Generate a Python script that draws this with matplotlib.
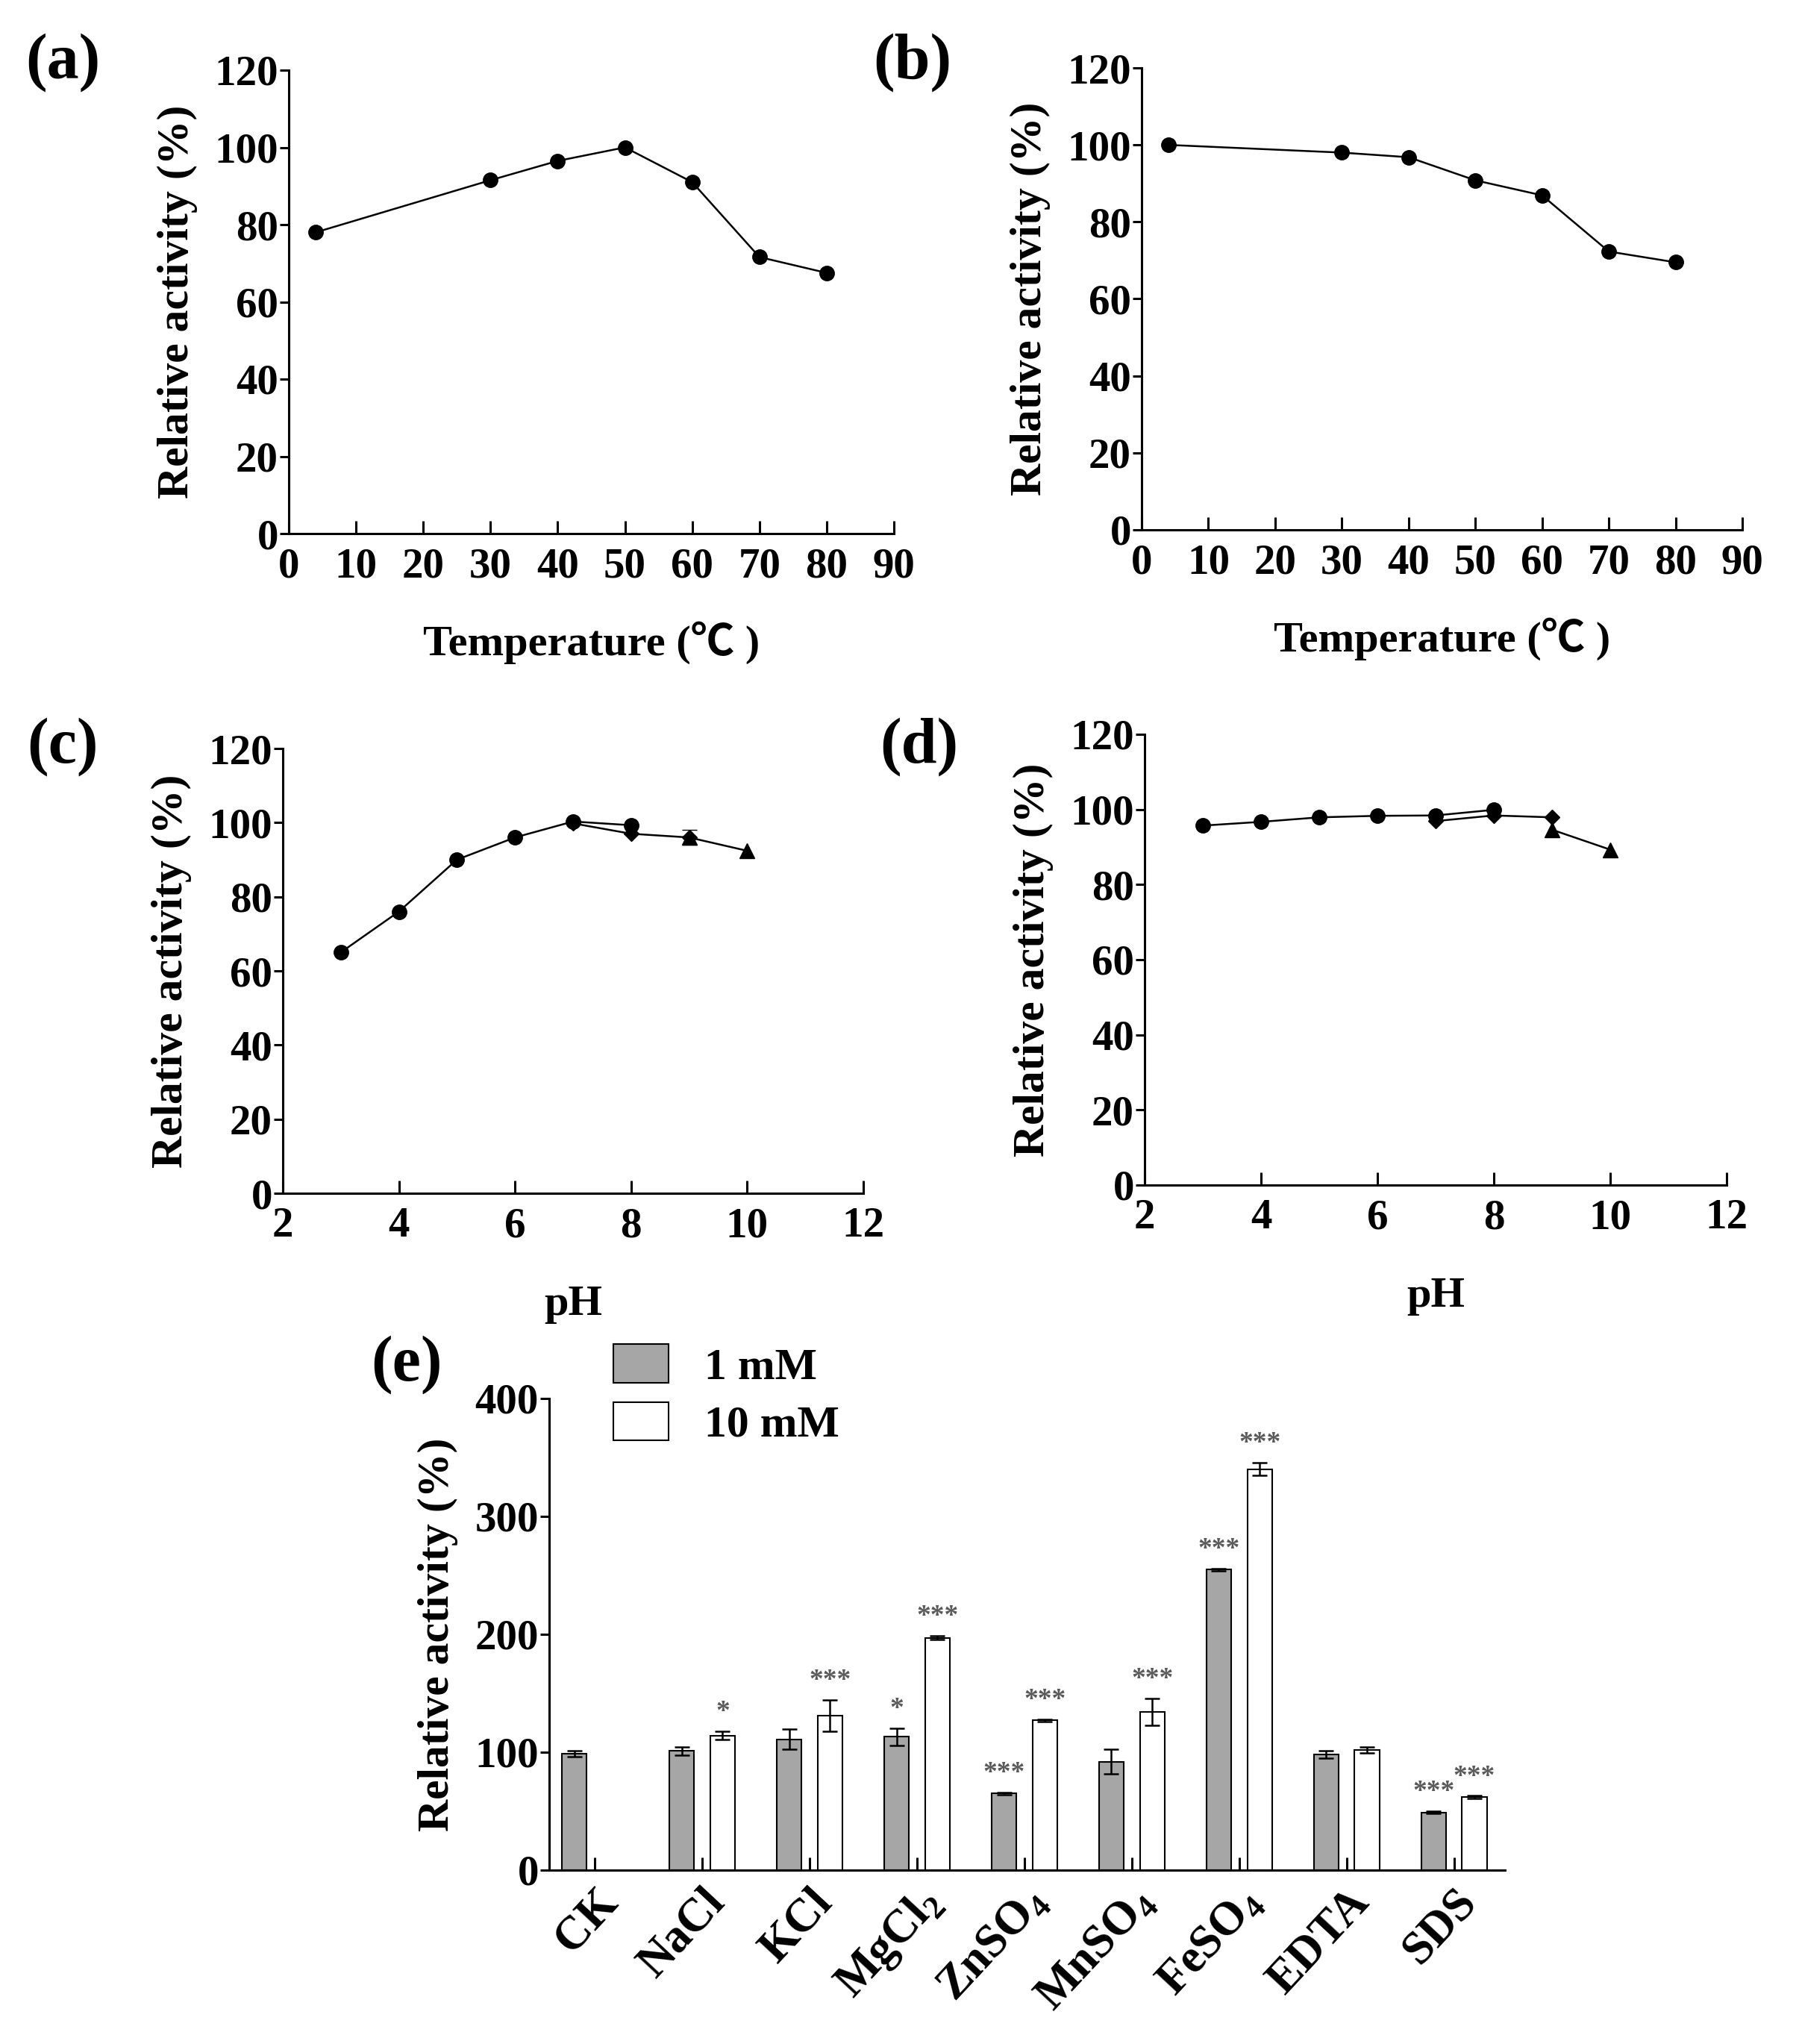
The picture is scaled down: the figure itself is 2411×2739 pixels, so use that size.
import numpy as np
import matplotlib.pyplot as plt

plt.rcParams["font.family"] = ["Liberation Serif", "Noto Sans CJK SC", "DejaVu Serif"]
plt.rcParams["font.weight"] = "bold"
plt.rcParams["axes.labelweight"] = "bold"
plt.rcParams["mathtext.fontset"] = "custom"
plt.rcParams["mathtext.rm"] = "Liberation Serif"
plt.rcParams["mathtext.bf"] = "Liberation Serif:bold"

# (a) optimum temperature
temp_a = [4, 30, 40, 50, 60, 70, 80]
act_a = [78, 91.5, 96.5, 100, 91, 71.6, 67.5]

# (b) temperature stability
temp_b = [4, 30, 40, 50, 60, 70, 80]
act_b = [100, 98, 96.8, 90.8, 86.9, 72.3, 69.5]

# (c) optimum pH, three buffers
ph_1 = [3, 4, 5, 6, 7, 8]
ph_2 = [7, 8, 9]
ph_3 = [9, 10]
act_c1 = [65, 76, 90, 96, 100.3, 99.3]
act_c2 = [99.8, 97, 96]
err_c2 = [0, 0, 2]
act_c3 = [96, 92.4]

# (d) pH stability
act_d1 = [95.7, 96.7, 97.9, 98.3, 98.4, 99.9]
act_d2 = [96.9, 98.4, 97.9]
act_d3 = [94.6, 89.3]

# (e) metal ions / reagents
reagents = ["CK", "NaCl", "KCl", r"MgCl$_\mathbf{2}$", r"ZnSO$_\mathrm{4}$",
            r"MnSO$_\mathrm{4}$", r"FeSO$_\mathrm{4}$", "EDTA", "SDS"]
mm1 = [99, 101, 111, 113, 65, 92, 255, 98, 49]
mm1_err = [2.5, 3.5, 8.5, 7.5, 1, 10.5, 1, 3, 1]
mm10 = [np.nan, 114, 131, 197, 127, 134, 340, 102, 62]
mm10_err = [np.nan, 3.5, 13.5, 1.5, 1, 11.5, 5.5, 2.5, 1]
sig1 = ["", "", "", "*", "***", "", "***", "", "***"]
sig10 = ["", "*", "***", "***", "***", "***", "***", "", "***"]

W, H = 2411, 2739
fig = plt.figure(figsize=(W / 100, H / 100), dpi=100)


def box(left, top, right, bottom):
    return [left / W, 1 - bottom / H, (right - left) / W, (bottom - top) / H]


def style(ax):
    ax.spines["top"].set_visible(False)
    ax.spines["right"].set_visible(False)
    for s in ["left", "bottom"]:
        ax.spines[s].set_linewidth(2.2)
    ax.tick_params(axis="x", direction="in", length=12, width=2.2,
                   labelsize=41, pad=13)
    ax.tick_params(axis="y", direction="out", length=9, width=2.2,
                   labelsize=41, pad=1)


line_kw = dict(color="black", linewidth=1.8, markersize=14)
temp_label = "Temperature (\u2103 )"

# panel a
ax_a = fig.add_axes(box(387, 94, 1198, 715))
ax_a.plot(temp_a, act_a, marker="o", **line_kw)
ax_a.set_xlim(0, 90)
ax_a.set_ylim(0, 120)
ax_a.set_xticks(range(0, 91, 10))
ax_a.set_yticks(range(0, 121, 20))
ax_a.set_xlabel(temp_label, fontsize=42, labelpad=34)
ax_a.set_ylabel("Relative activity (%)", fontsize=43, labelpad=16)
style(ax_a)

# panel b
ax_b = fig.add_axes(box(1530, 91, 2335, 710))
ax_b.plot(temp_b, act_b, marker="o", **line_kw)
ax_b.set_xlim(0, 90)
ax_b.set_ylim(0, 120)
ax_b.set_xticks(range(0, 91, 10))
ax_b.set_yticks(range(0, 121, 20))
ax_b.set_xlabel(temp_label, fontsize=42, labelpad=34)
ax_b.set_ylabel("Relative activity (%)", fontsize=43, labelpad=16)
style(ax_b)

# panel c
ax_c = fig.add_axes(box(379, 1003, 1157, 1599))
ax_c.plot(ph_1, act_c1, marker="o", **line_kw)
ax_c.errorbar(ph_2, act_c2, yerr=err_c2, marker="D", color="black",
              linewidth=1.8, markersize=10, capsize=7, elinewidth=1.8)
ax_c.plot(ph_3, act_c3, marker="^", **line_kw)
ax_c.set_xlim(2, 12)
ax_c.set_ylim(0, 120)
ax_c.set_xticks(range(2, 13, 2))
ax_c.set_yticks(range(0, 121, 20))
ax_c.set_xlabel("pH", fontsize=42, labelpad=38)
ax_c.set_ylabel("Relative activity (%)", fontsize=43, labelpad=16)
style(ax_c)

# panel d
ax_d = fig.add_axes(box(1534, 984, 2314, 1588))
ax_d.plot(ph_1, act_d1, marker="o", **line_kw)
ax_d.plot(ph_2, act_d2, marker="D", color="black", linewidth=1.8,
          markersize=10)
ax_d.plot(ph_3, act_d3, marker="^", **line_kw)
ax_d.set_xlim(2, 12)
ax_d.set_ylim(0, 120)
ax_d.set_xticks(range(2, 13, 2))
ax_d.set_yticks(range(0, 121, 20))
ax_d.set_xlabel("pH", fontsize=42, labelpad=38)
ax_d.set_ylabel("Relative activity (%)", fontsize=43, labelpad=16)
style(ax_d)

# panel e
ax_e = fig.add_axes(box(736, 1874, 2017, 2506))
x = np.arange(len(reagents))
bw = 0.23
off = 0.19
ax_e.bar(x - off, mm1, bw, yerr=mm1_err, color="#a6a6a6", edgecolor="black",
         linewidth=1.5, capsize=7, error_kw=dict(elinewidth=1.8, capthick=1.8),
         label="1 mM")
ax_e.bar(x + off, mm10, bw, yerr=mm10_err, color="white", edgecolor="black",
         linewidth=1.5, capsize=7, error_kw=dict(elinewidth=1.8, capthick=1.8),
         label="10 mM")
for i in range(len(reagents)):
    if sig1[i]:
        ax_e.text(x[i] - off, mm1[i] + mm1_err[i] + 5, sig1[i], ha="center",
                  va="bottom", fontsize=27, color="#5a5a5a")
    if sig10[i]:
        ax_e.text(x[i] + off, mm10[i] + mm10_err[i] + 5, sig10[i], ha="center",
                  va="bottom", fontsize=27, color="#5a5a5a")
ax_e.set_xlim(-0.425, 8.475)
ax_e.set_ylim(0, 400)
ax_e.set_yticks(range(0, 401, 100))
ax_e.set_xticks(x)
ax_e.set_xticklabels(reagents, rotation=47, ha="right",
                     rotation_mode="anchor")
ax_e.set_ylabel("Relative activity (%)", fontsize=43, labelpad=16)
style(ax_e)
ax_e.tick_params(axis="x", length=12, pad=10, labelsize=45)
ax_e.legend(loc="upper left", bbox_to_anchor=(0.025, 1.2), frameon=False,
            fontsize=43, handlelength=1.25, handleheight=0.95,
            labelspacing=0.3, handletextpad=0.8)

# panel letters
letters = ["(a)", "(b)", "(c)", "(d)", "(e)"]
letter_pos = [(84, 84), (1223, 84), (84, 1001), (1232, 1001), (545, 1829)]
for lab, (px, py) in zip(letters, letter_pos):
    fig.text(px / W, 1 - py / H, lab, fontsize=62, fontweight="bold",
             ha="center", va="center")

fig.savefig("out.png", dpi=100)
